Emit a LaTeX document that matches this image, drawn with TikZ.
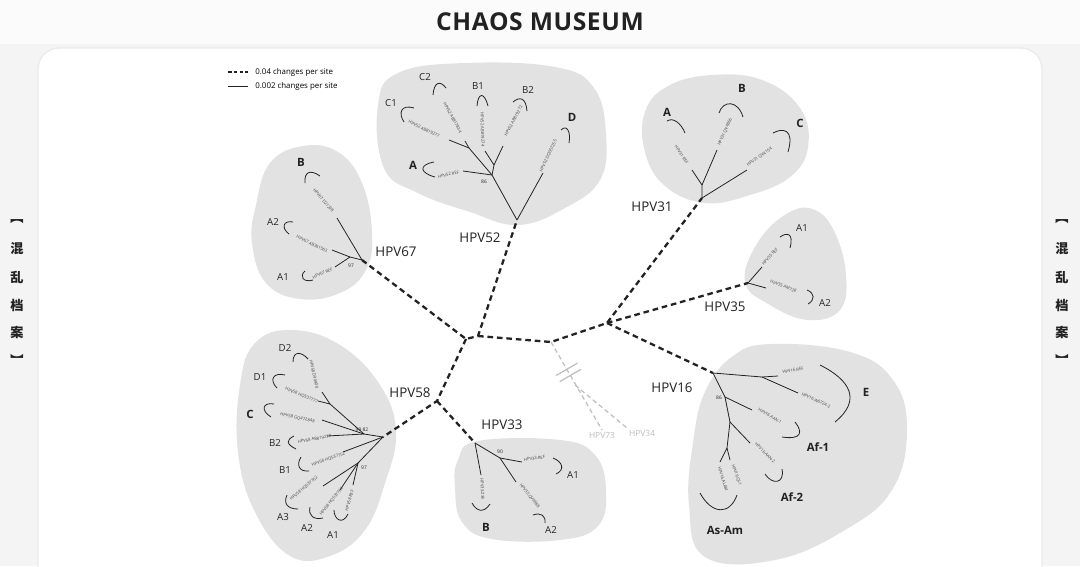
\documentclass[tikz,border=0pt]{standalone}
\usepackage{fontspec}
\setmainfont{Open Sans}
\newfontfamily\cjk{Noto Sans CJK SC}
\newfontfamily\titlefont[LetterSpace=2.5]{Open Sans}
\usetikzlibrary{calc}
\definecolor{blobgray}{RGB}{226,226,226}
\definecolor{pagegray}{RGB}{244,244,244}
\definecolor{inkdark}{RGB}{34,34,34}
\definecolor{palegray}{RGB}{190,190,190}

\begin{document}
\begin{tikzpicture}[x=0.02cm, y=-0.02cm,
  backbone/.style={inkdark, line width=1.3pt, dash pattern=on 3.2pt off 2.2pt},
  outgroup/.style={palegray, line width=0.7pt, dash pattern=on 2.6pt off 1.8pt},
  branch/.style={inkdark, line width=0.45pt},
  bracket/.style={inkdark, line width=0.45pt},
  blob/.style={fill=blobgray, draw=none},
  strain/.style={midway, sloped, font=\fontsize{2.4}{3}\selectfont, inner sep=0.3pt, text=inkdark!85},
  clade/.style={font=\fontsize{5.5}{6}\selectfont, text=inkdark, inner sep=0pt},
  bigclade/.style={font=\fontsize{6.5}{7}\selectfont\bfseries, text=inkdark, inner sep=0pt},
  typename/.style={font=\fontsize{7.6}{9}\selectfont, text=inkdark, inner sep=0pt},
  boot/.style={font=\fontsize{2.8}{3}\selectfont, text=inkdark, inner sep=0pt},
  sidetext/.style={font=\cjk\bfseries\fontsize{7.5}{8}\selectfont, text=inkdark, inner sep=0pt}]

  % page and panel
  \useasboundingbox (0,0) rectangle (1080,566);
  \clip (0,0) rectangle (1080,566);
  \fill[pagegray] (0,0) rectangle (1080,566);
  \fill[white!60!pagegray] (0,0) rectangle (1080,44);
  \fill[white, draw=black!8, line width=0.8pt, rounded corners=12] (38,48) rectangle (1042,620);

  \node[font=\titlefont\bfseries\fontsize{14}{16}\selectfont, text=inkdark] (title) at (540,22) {CHAOS MUSEUM};

  % side captions
  \foreach \sx/\sn in {17/l, 1062/r} {
    \node[sidetext] (open\sn) at (\sx,222) {︻};
    \node[sidetext] (c1\sn) at (\sx,249) {混};
    \node[sidetext] (c2\sn) at (\sx,277) {乱};
    \node[sidetext] (c3\sn) at (\sx,305) {档};
    \node[sidetext] (c4\sn) at (\sx,332) {案};
    \node[sidetext] (close\sn) at (\sx,360) {︼};
  }

  % legend
  \coordinate (lgda) at (228,72); \coordinate (lgdb) at (248,72);
  \coordinate (lgsa) at (228,86); \coordinate (lgsb) at (248,86);
  \draw[inkdark, line width=0.8pt, dash pattern=on 2pt off 1.3pt] (lgda) -- (lgdb);
  \draw[inkdark, line width=0.45pt] (lgsa) -- (lgsb);
  \node[anchor=west, font=\fontsize{4.5}{5}\selectfont, inner sep=0pt] (lgdt) at (255,72) {0.04 changes per site};
  \node[anchor=west, font=\fontsize{4.5}{5}\selectfont, inner sep=0pt] (lgst) at (255,86) {0.002 changes per site};

  % clusters
  \fill[blob] plot[smooth cycle, tension=0.7] coordinates {(378,105) (398,73) (465,63) (555,67) (594,88) (606,135) (600,180) (565,208) (518,225) (470,212) (418,193) (384,168)};
  \fill[blob] plot[smooth cycle, tension=0.7] coordinates {(256,205) (270,163) (303,146) (338,152) (362,183) (372,232) (366,270) (340,293) (300,299) (266,283) (252,243)};
  \fill[blob] plot[smooth cycle, tension=0.7] coordinates {(645,112) (668,86) (712,75) (762,80) (800,108) (808,147) (790,177) (750,195) (705,203) (665,186) (645,152)};
  \fill[blob] plot[smooth cycle, tension=0.7] coordinates {(745,282) (758,242) (788,213) (815,210) (835,233) (846,275) (840,310) (808,320) (770,305)};
  \fill[blob] plot[smooth cycle, tension=0.7] coordinates {(705,392) (733,356) (772,344) (850,352) (893,380) (907,430) (892,490) (845,530) (775,560) (705,557) (689,505) (693,443)};
  \fill[blob] plot[smooth cycle, tension=0.7] coordinates {(240,385) (255,343) (292,330) (340,345) (380,385) (396,432) (385,483) (365,530) (330,556) (290,556) (255,512) (238,452)};
  \fill[blob] plot[smooth cycle, tension=0.7] coordinates {(458,460) (478,441) (560,440) (595,455) (606,490) (598,526) (560,540) (492,539) (462,522) (455,488)};

  % backbone
  \coordinate (c1) at (466,339);
  \coordinate (c2) at (478,336);
  \coordinate (c3) at (551,342);
  \coordinate (c4) at (607,323);
  \coordinate (j58) at (437,401);
  \coordinate (r52) at (517,220);
  \coordinate (r67) at (362,260);
  \coordinate (r31) at (702,198);
  \coordinate (r35) at (748,283);
  \coordinate (r16) at (713,373);
  \coordinate (r58) at (383,437);
  \coordinate (r33) at (475,443);
  \draw[backbone] (r67) -- (c1) -- (c2) -- (r52);
  \draw[backbone] (c1) -- (j58) -- (r58);
  \draw[backbone] (j58) -- (r33);
  \draw[backbone] (c2) -- (c3) -- (c4) -- (r31);
  \draw[backbone] (c4) -- (r35);
  \draw[backbone] (c4) -- (r16);

  % outgroup
  \coordinate (p73) at (602,430);
  \coordinate (p34) at (627,428);
  \coordinate (sp) at (575,385);
  \coordinate (bk1) at ($(c3)!0.31!(p73)$);
  \coordinate (bk2) at ($(c3)!0.38!(p73)$);
  \draw[outgroup] (c3) -- (p73);
  \draw[outgroup] (sp) -- (p34);
  \draw[palegray, line width=0.7pt] ($(bk1)!7pt!90:(p73)$) -- ($(bk1)!7pt!-90:(p73)$);
  \draw[palegray, line width=0.7pt] ($(bk2)!7pt!90:(p73)$) -- ($(bk2)!7pt!-90:(p73)$);
  \node[font=\fontsize{4.8}{5}\selectfont, text=palegray, anchor=north, inner sep=1pt] (n73) at (p73) {HPV73};
  \node[font=\fontsize{4.8}{5}\selectfont, text=palegray, anchor=north west, inner sep=1pt] (n34) at (p34) {HPV34};

  % type names
  \node[typename] (t52) at (480,238) {HPV52};
  \node[typename] (t67) at (396,252) {HPV67};
  \node[typename] (t31) at (652,207) {HPV31};
  \node[typename] (t35) at (725,307) {HPV35};
  \node[typename] (t16) at (672,388) {HPV16};
  \node[typename] (t58) at (410,393) {HPV58};
  \node[typename] (t33) at (502,425) {HPV33};

  % HPV52
  \coordinate (j52a) at (492,175);
  \coordinate (j52b) at (494,165);
  \coordinate (j52c) at (469,148);
  \draw[branch] (r52) -- (j52a) -- (j52c) -- (449,140);
  \draw[branch] (r52) -- (543,173);
  \draw[branch] (j52a) -- (463,171);
  \draw[branch] (j52a) -- (j52b) -- (503,146);
  \draw[branch] (j52b) -- (485,151);
  \draw[branch] (j52c) -- (465,141);
  \node[boot] (b52) at (484,182) {86};
  \path (541,172) -- (556,140) node[strain] (s52d) {HPV52 DQ057255};
  \path (460,172) -- (437,177) node[strain] (s52a) {HPV52 REF};
  \path (438,136) -- (410,122) node[strain] (s52c1) {HPV52 AB819277};
  \path (463,137) -- (442,98) node[strain] (s52c2) {HPV52 AB817834};
  \path (483,147) -- (482,112) node[strain] (s52b1) {HPV52 AB819274};
  \path (503,141) -- (524,101) node[strain] (s52b2) {HPV52 AB819272};
  \draw[bracket] (561,130) .. controls (567,124) and (571,132) .. (569,143);
  \draw[bracket] (434,162) .. controls (418,165) and (420,173) .. (435,177);
  \draw[bracket] (414,108) .. controls (401,104) and (398,113) .. (404,122);
  \draw[bracket] (433,95) .. controls (434,82) and (440,80) .. (446,88);
  \draw[bracket] (477,106) .. controls (478,93) and (484,91) .. (488,106);
  \draw[bracket] (513,102) .. controls (520,96) and (526,98) .. (527,111);
  \node[bigclade] (k52d) at (572,117) {D};
  \node[bigclade] (k52a) at (413,165) {A};
  \node[clade] (k52c1) at (391,103) {C1};
  \node[clade] (k52c2) at (425,77) {C2};
  \node[clade] (k52b1) at (478,86) {B1};
  \node[clade] (k52b2) at (528,90) {B2};

  % HPV67
  \coordinate (j67) at (350,257);
  \draw[branch] (r67) -- (337,218);
  \draw[branch] (r67) -- (j67) -- (332,250);
  \draw[branch] (j67) -- (335,267);
  \node[boot] (b67) at (351,266) {97};
  \path (336,215) -- (311,186) node[strain] (s67b) {HPV67 D21208};
  \path (328,252) -- (296,236) node[strain] (s67a2) {HPV67 AB361563};
  \path (333,269) -- (312,278) node[strain] (s67a1) {HPV67 REF};
  \draw[bracket] (305,183) .. controls (304,172) and (310,169) .. (320,176);
  \draw[bracket] (293,222) .. controls (283,220) and (281,228) .. (289,234);
  \draw[bracket] (305,271) .. controls (299,276) and (303,283) .. (313,280);
  \node[bigclade] (k67b) at (301,162) {B};
  \node[clade] (k67a2) at (273,222) {A2};
  \node[clade] (k67a1) at (283,277) {A1};

  % HPV31
  \coordinate (j31) at (702,185);
  \draw[branch] (r31) -- (747,170);
  \draw[branch] (r31) -- (j31) -- (692,170);
  \draw[branch] (j31) -- (717,150);
  \path (690,167) -- (673,142) node[strain] (s31a) {HPV31 REF};
  \path (718,148) -- (732,116) node[strain] (s31b) {HPV31 QV4866};
  \path (745,167) -- (774,147) node[strain] (s31c) {HPV31 QV4154};
  \draw[bracket] (667,121) .. controls (673,117) and (681,123) .. (685,133);
  \draw[bracket] (719,113) .. controls (723,100) and (738,100) .. (743,117);
  \draw[bracket] (773,133) .. controls (782,128) and (795,128) .. (788,152);
  \node[bigclade] (k31a) at (667,112) {A};
  \node[bigclade] (k31b) at (742,88) {B};
  \node[bigclade] (k31c) at (800,123) {C};

  % HPV35
  \draw[branch] (r35) -- (762,267);
  \draw[branch] (r35) -- (766,288);
  \path (763,264) -- (777,249) node[strain] (s35a1) {HPV35 REF};
  \path (769,281) -- (798,292) node[strain] (s35a2) {HPV35 AM728};
  \draw[bracket] (780,237) .. controls (787,232) and (794,233) .. (790,248);
  \draw[bracket] (807,290) .. controls (815,293) and (815,300) .. (808,304);
  \node[clade] (k35a1) at (802,228) {A1};
  \node[clade] (k35a2) at (825,303) {A2};

  % HPV16
  \coordinate (s16) at (762,377);
  \coordinate (j16a) at (725,397);
  \coordinate (j16b) at (730,422);
  \coordinate (j16c) at (727,448);
  \draw[branch] (r16) -- (s16) -- (778,376);
  \draw[branch] (s16) -- (798,393);
  \draw[branch] (r16) -- (j16a) -- (752,410);
  \draw[branch] (j16a) -- (j16b) -- (750,443);
  \draw[branch] (j16b) -- (j16c) -- (720,462);
  \draw[branch] (j16c) -- (730,460);
  \node[boot] (b16) at (719,398) {86};
  \path (780,373) -- (806,368) node[strain] (s16e1) {HPV16.REF};
  \path (800,393) -- (832,408) node[strain] (s16e2) {HPV16.W0724-2};
  \path (757,408) -- (783,424) node[strain] (s16af1) {HPV16.AAN-1};
  \path (755,443) -- (775,463) node[strain] (s16af2) {HPV16.AAN-2};
  \path (719,466) -- (727,492) node[strain] (s16as) {HPV16.ALAM};
  \path (732,463) -- (741,487) node[strain] (s16am) {HPV16.QL1};
  \draw[bracket] (820,365) .. controls (850,380) and (862,400) .. (835,422);
  \draw[bracket] (795,422) .. controls (803,432) and (802,440) .. (782,437);
  \draw[bracket] (765,474) .. controls (772,485) and (785,484) .. (782,469);
  \draw[bracket] (700,493) .. controls (712,515) and (730,515) .. (737,495);
  \node[bigclade] (k16e) at (866,392) {E};
  \node[bigclade] (k16af1) at (818,447) {Af-1};
  \node[bigclade] (k16af2) at (792,497) {Af-2};
  \node[bigclade] (k16as) at (725,530) {As-Am};

  % HPV58
  \coordinate (j58a) at (364,434);
  \coordinate (j58d) at (330,404);
  \coordinate (j58b) at (358,463);
  \draw[branch] (r58) -- (j58a) -- (j58d) -- (322,392);
  \draw[branch] (j58d) -- (318,401);
  \draw[branch] (j58a) -- (322,420);
  \draw[branch] (j58a) -- (327,436);
  \draw[branch] (r58) -- (343,452);
  \draw[branch] (r58) -- (j58b) -- (323,486);
  \draw[branch] (j58b) -- (340,490);
  \draw[branch] (j58b) -- (353,485);
  \node[boot] (b58a) at (362,430) {99 82};
  \node[boot] (b58b) at (364,468) {97};
  \path (317,388) -- (311,360) node[strain] (s58d2) {HPV58 D90400};
  \path (317,402) -- (286,389) node[strain] (s58d1) {HPV58 HQ537777};
  \path (313,421) -- (282,415) node[strain] (s58c) {HPV58 GQ472848};
  \path (326,437) -- (303,441) node[strain] (s58b2) {HPV58 AB819279};
  \path (341,455) -- (316,464) node[strain] (s58b1) {HPV58 HQ537752};
  \path (314,480) -- (294,497) node[strain] (s58a3) {HPV58 HQ537762};
  \path (339,492) -- (324,511) node[strain] (s58a2) {HPV58 HQ537764};
  \path (353,489) -- (346,512) node[strain] (s58a1) {HPV58 REF};
  \draw[bracket] (293,362) .. controls (293,350) and (302,352) .. (308,359);
  \draw[bracket] (285,375) .. controls (273,372) and (269,380) .. (277,388);
  \draw[bracket] (274,404) .. controls (263,402) and (260,410) .. (271,417);
  \draw[bracket] (294,436) .. controls (286,440) and (286,444) .. (296,449);
  \draw[bracket] (301,457) .. controls (296,465) and (299,472) .. (309,471);
  \draw[bracket] (287,495) .. controls (283,504) and (288,509) .. (298,509);
  \draw[bracket] (310,507) .. controls (308,516) and (314,520) .. (323,518);
  \draw[bracket] (334,510) .. controls (334,520) and (343,525) .. (348,514);
  \node[clade] (k58d2) at (285,348) {D2};
  \node[clade] (k58d1) at (260,377) {D1};
  \node[bigclade] (k58c) at (250,414) {C};
  \node[clade] (k58b2) at (275,443) {B2};
  \node[clade] (k58b1) at (285,470) {B1};
  \node[clade] (k58a3) at (283,517) {A3};
  \node[clade] (k58a2) at (307,528) {A2};
  \node[clade] (k58a1) at (333,535) {A1};

  % HPV33
  \coordinate (j33) at (500,458);
  \draw[branch] (r33) -- (j33) -- (522,462);
  \draw[branch] (j33) -- (516,482);
  \draw[branch] (r33) -- (481,475);
  \node[boot] (b33) at (500,452) {90};
  \path (523,460) -- (546,457) node[strain] (s33a1) {HPV33.REF};
  \path (518,482) -- (541,510) node[strain] (s33a2) {HPV33.QV0888};
  \path (482,478) -- (483,500) node[strain] (s33b) {HPV33.Z3k};
  \draw[bracket] (553,458) .. controls (563,462) and (565,470) .. (556,474);
  \draw[bracket] (533,515) .. controls (541,512) and (546,516) .. (545,523);
  \draw[bracket] (472,503) .. controls (477,512) and (484,513) .. (490,504);
  \node[clade] (k33a1) at (573,475) {A1};
  \node[clade] (k33a2) at (551,530) {A2};
  \node[bigclade] (k33b) at (486,527) {B};
\end{tikzpicture}
\end{document}
